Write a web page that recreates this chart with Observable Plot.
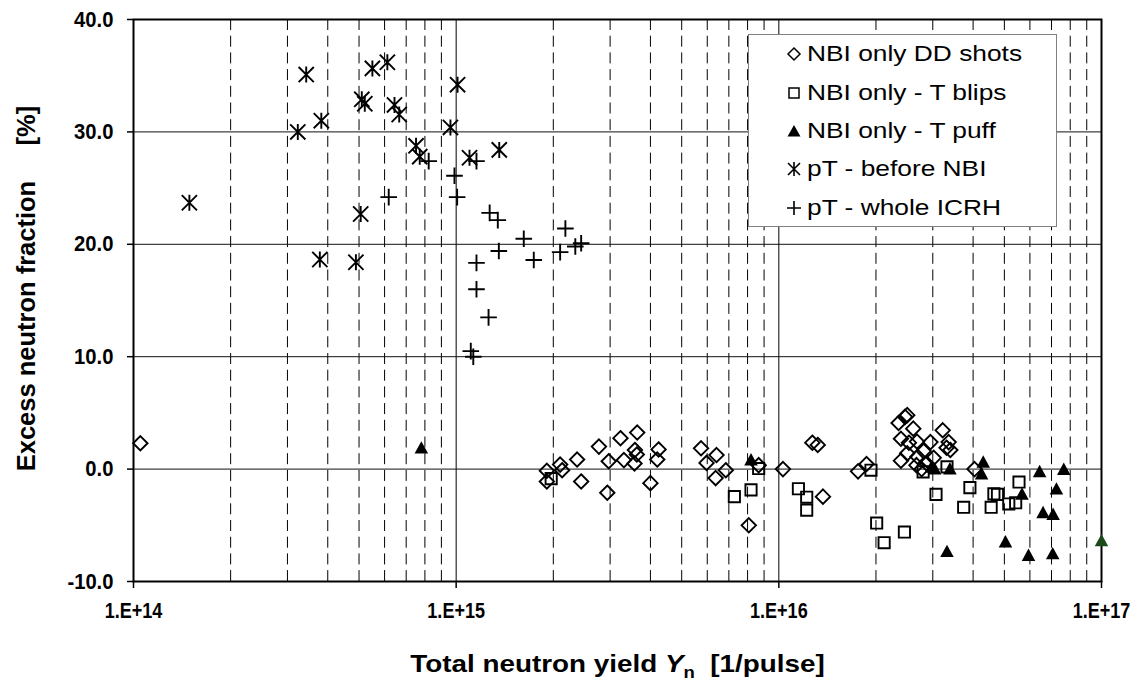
<!DOCTYPE html>
<html>
<head>
<meta charset="utf-8">
<script src="https://cdn.jsdelivr.net/npm/d3@7"></script>
<script src="https://cdn.jsdelivr.net/npm/@observablehq/plot@0.6"></script>
<style>
  body { margin: 0; background: #fff; }
  #wrap { position: relative; width: 1147px; height: 684px; font-family: "Liberation Sans", Arial, sans-serif; }
  #legend { position: absolute; left: 748px; top: 34px; width: 307px; height: 191px; background: #fff; border: 1px solid #808080; }
  .row { position: absolute; left: 0; height: 30px; display: flex; align-items: center; font-size: 22.5px; color: #000; white-space: nowrap; }
  .row svg { width: 20px; height: 20px; margin-left: 35px; margin-right: 3px; flex: none; }
  .row span { display: inline-block; transform: scaleX(1.17); transform-origin: left center; }
</style>
</head>
<body>
<div id="wrap"></div>
<script>
// ---- data ----
const seriesNames = ["NBI only DD shots", "NBI only - T blips", "NBI only - T puff", "pT - before NBI", "pT - whole ICRH"];

const ddX = [1.05e14, 1.91e15, 1.91e15, 2.10e15, 2.13e15, 2.37e15, 2.44e15, 2.77e15, 2.94e15, 2.97e15, 3.23e15, 3.31e15, 3.64e15, 3.58e15, 3.57e15, 3.63e15, 4.0e15, 4.24e15, 4.2e15, 5.74e15, 5.97e15, 6.41e15, 6.37e15, 6.85e15, 8.07e15, 8.66e15, 1.03e16, 1.27e16, 1.32e16, 1.37e16, 1.76e16, 1.87e16, 2.35e16, 2.50e16, 2.46e16, 2.61e16, 3.22e16, 2.39e16, 2.53e16, 2.68e16, 2.95e16, 3.36e16, 3.31e16, 3.40e16, 2.81e16, 2.50e16, 2.69e16, 3.02e16, 2.39e16, 2.67e16, 2.87e16, 4.04e16, 2.77e16];
const ddY = [2.3, -0.15, -1.1, 0.4, -0.1, 0.85, -1.1, 2.0, -2.1, 0.7, 2.75, 0.8, 3.25, 1.7, 0.5, 1.3, -1.25, 1.75, 0.85, 1.85, 0.55, 1.25, -0.8, -0.1, -5.0, 0.35, 0.0, 2.35, 2.15, -2.45, -0.2, 0.45, 4.1, 4.8, 4.65, 3.6, 3.45, 2.7, 2.35, 2.45, 2.4, 2.4, 1.9, 1.7, 1.6, 1.4, 1.1, 1.0, 0.75, 0.35, 0.5, 0.0, 0.0];

const blipX = [1.97e15, 7.28e15, 8.2e15, 8.66e15, 1.15e16, 1.22e16, 1.22e16, 1.93e16, 2.01e16, 2.12e16, 2.45e16, 2.80e16, 3.07e16, 3.32e16, 3.91e16, 3.74e16, 4.55e16, 4.64e16, 4.76e16, 5.16e16, 5.42e16, 5.55e16];
const blipY = [-0.85, -2.45, -1.85, 0.05, -1.75, -2.5, -3.65, -0.1, -4.8, -6.55, -5.6, -0.25, -2.25, 0.2, -1.65, -3.4, -3.4, -2.2, -2.25, -3.1, -3.0, -1.15];

const puffX = [7.8e14, 8.2e15, 2.97e16, 3.04e16, 3.39e16, 3.32e16, 4.30e16, 4.25e16, 5.04e16, 5.94e16, 5.67e16, 6.43e16, 6.59e16, 7.08e16, 7.25e16, 7.64e16, 7.06e16, 1.0e17];
const puffY = [1.9, 0.85, 0.2, 0.05, 0.05, -7.3, 0.65, -0.4, -6.45, -7.65, -2.2, -0.2, -3.85, -4.0, -1.75, 0.0, -7.5, -6.35];
const puffColor = ["#000", "#000", "#000", "#000", "#000", "#000", "#000", "#000", "#000", "#000", "#000", "#000", "#000", "#000", "#000", "#000", "#000", "#1a4a1a"];

const beforeX = [1.49e14, 3.43e14, 3.23e14, 3.82e14, 3.78e14, 5.06e14, 4.89e14, 5.1e14, 5.21e14, 5.5e14, 6.12e14, 6.44e14, 6.66e14, 7.51e14, 7.71e14, 1.01e15, 9.6e14, 1.10e15, 1.36e15];
const beforeY = [23.7, 35.1, 30.0, 31.0, 18.65, 22.7, 18.4, 32.9, 32.5, 35.65, 36.2, 32.4, 31.55, 28.76, 27.8, 34.2, 30.4, 27.7, 28.4];

const icrhX = [6.18e14, 8.22e14, 9.88e14, 1.007e15, 1.156e15, 1.27e15, 1.346e15, 1.356e15, 1.62e15, 1.74e15, 2.10e15, 2.18e15, 2.34e15, 2.44e15, 1.156e15, 1.156e15, 1.26e15, 1.11e15, 1.13e15];
const icrhY = [24.2, 27.4, 26.1, 24.2, 27.4, 22.8, 22.15, 19.4, 20.5, 18.6, 19.3, 21.4, 19.8, 20.1, 18.35, 16.0, 13.5, 10.5, 10.0];

const xTicks = [1e14, 1e15, 1e16, 1e17];
const xTickLabels = ["1.E+14", "1.E+15", "1.E+16", "1.E+17"];
const yTicks = [-10, 0, 10, 20, 30, 40];
const yTickLabels = ["-10.0", "0.0", "10.0", "20.0", "30.0", "40.0"];
const decadeLines = [1e15, 1e16];
const minorLines = [];
for (const e of [14, 15, 16]) for (let k = 2; k <= 9; k++) minorLines.push(k * Math.pow(10, e));

const yLabel = "Excess neutron fraction \u00a0\u00a0\u00a0\u00a0[%]";

// ---- symbols ----
const R = s => Math.sqrt(s / Math.PI);
const symDiamond = {draw(c, s) { const r = R(s); c.moveTo(0, -r); c.lineTo(r, 0); c.lineTo(0, r); c.lineTo(-r, 0); c.closePath(); }};
const symSquare = {draw(c, s) { const r = R(s); c.rect(-r, -r, 2 * r, 2 * r); }};
const symTriangle = {draw(c, s) { const r = R(s); c.moveTo(0, -r); c.lineTo(r * 1.04, r * 0.9); c.lineTo(-r * 1.04, r * 0.9); c.closePath(); }};
const symStar = {draw(c, s) { const r = R(s); const a = r * 0.95; c.moveTo(-a, -a); c.lineTo(a, a); c.moveTo(-a, a); c.lineTo(a, -a); c.moveTo(0, -r); c.lineTo(0, r); }};
const symPlus = {draw(c, s) { const r = R(s); c.moveTo(-r, 0); c.lineTo(r, 0); c.moveTo(0, -r); c.lineTo(0, r); }};

const idx = a => a.map((_, i) => i);

const chart = Plot.plot({
  width: 1147,
  height: 684,
  marginLeft: 133,
  marginRight: 46,
  marginTop: 19,
  marginBottom: 103,
  style: {fontFamily: "'Liberation Sans', Arial, sans-serif", background: "#fff", color: "#000"},
  x: {type: "log", domain: [1e14, 1e17]},
  y: {domain: [-10, 40]},
  marks: [
    Plot.ruleX(minorLines, {stroke: "#000", strokeWidth: 1, strokeDasharray: "11,5.7"}),
    Plot.ruleX(decadeLines, {stroke: "#000", strokeWidth: 1}),
    Plot.ruleY(yTicks, {stroke: "#111", strokeWidth: 1}),
    Plot.frame({stroke: "#000", strokeWidth: 2}),
    Plot.axisY({ticks: yTicks, tickFormat: (d) => yTickLabels[yTicks.indexOf(d)], tickSize: 6, tickPadding: 14, fontSize: 22, fontWeight: "bold", label: null, stroke: "#000", strokeWidth: 1.5}),
    Plot.axisX({ticks: xTicks, tickFormat: (d) => xTickLabels[xTicks.indexOf(d)], tickSize: 7, tickPadding: 14, fontSize: 22, fontWeight: "bold", label: null, stroke: "#000", strokeWidth: 1.5}),
    Plot.text([yLabel], {frameAnchor: "left", textAnchor: "middle", lineAnchor: "middle", rotate: -90, dx: -107, dy: -12, fontSize: 25.5, fontWeight: "bold"}),
    Plot.text(["Total neutron yield Y n [1/pulse]"], {frameAnchor: "bottom", textAnchor: "middle", lineAnchor: "middle", dy: 83, fontSize: 24, fontWeight: "bold", className: "xtitle"}),
    Plot.dot(idx(ddX), {x: i => ddX[i], y: i => ddY[i], symbol: symDiamond, r: 7.2, stroke: "#000", strokeWidth: 1.9, fill: "none"}),
    Plot.dot(idx(blipX), {x: i => blipX[i], y: i => blipY[i], symbol: symSquare, r: 5.6, stroke: "#000", strokeWidth: 1.9, fill: "none"}),
    Plot.dot(idx(puffX), {x: i => puffX[i], y: i => puffY[i], symbol: symTriangle, r: 6.5, fill: i => puffColor[i], stroke: "none"}),
    Plot.dot(idx(beforeX), {x: i => beforeX[i], y: i => beforeY[i], symbol: symStar, r: 8, stroke: "#000", strokeWidth: 1.9, fill: "none"}),
    Plot.dot(idx(icrhX), {x: i => icrhX[i], y: i => icrhY[i], symbol: symPlus, r: 8.3, stroke: "#000", strokeWidth: 1.9, fill: "none"})
  ]
});

document.getElementById("wrap").appendChild(chart);

const squeeze = (el, sx) => { const t = el.getAttribute("transform") || ""; el.setAttribute("transform", (t + " scale(" + sx + ",1)").trim()); };

// tick labels: x labels condensed like the reference
chart.querySelectorAll("text").forEach(t => {
  const s = t.textContent;
  if (xTickLabels.includes(s)) squeeze(t, 0.82);
  if (yTickLabels.includes(s)) squeeze(t, 0.92);
});

// rich x title (italic Y, subscript n)
const xt = chart.querySelector(".xtitle text");
if (xt) {
  xt.textContent = "";
  const ns = "http://www.w3.org/2000/svg";
  const add = (txt, attrs) => { const t = document.createElementNS(ns, "tspan"); t.textContent = txt; for (const k in attrs) t.setAttribute(k, attrs[k]); xt.appendChild(t); };
  add("Total neutron yield ", {});
  add("Y", {"font-style": "italic"});
  add("n", {"font-size": "16", dy: "6"});
  add("\u00a0\u00a0[1/pulse]", {dy: "-6"});
  squeeze(xt, 1.16);
}

// legend
const legend = document.createElement("div");
legend.id = "legend";
const icons = [
  '<svg viewBox="-10 -10 20 20"><path d="M0,-6L6,0L0,6L-6,0Z" fill="none" stroke="#000" stroke-width="1.5"/></svg>',
  '<svg viewBox="-10 -10 20 20"><rect x="-5" y="-5" width="10" height="10" fill="none" stroke="#000" stroke-width="1.5"/></svg>',
  '<svg viewBox="-10 -10 20 20"><path d="M0,-6L6.5,5.5L-6.5,5.5Z" fill="#000"/></svg>',
  '<svg viewBox="-10 -10 20 20"><path d="M-6,-6L6,6M-6,6L6,-6M0,-7L0,7" fill="none" stroke="#000" stroke-width="1.6"/></svg>',
  '<svg viewBox="-10 -10 20 20"><path d="M-7,0L7,0M0,-7L0,7" fill="none" stroke="#000" stroke-width="1.6"/></svg>'
];
const rowTops = [4, 43, 81, 119, 158];
seriesNames.forEach((name, i) => {
  const row = document.createElement("div");
  row.className = "row";
  row.style.top = rowTops[i] + "px";
  row.innerHTML = icons[i] + "<span>" + name + "</span>";
  legend.appendChild(row);
});
document.getElementById("wrap").appendChild(legend);
</script>
</body>
</html>
